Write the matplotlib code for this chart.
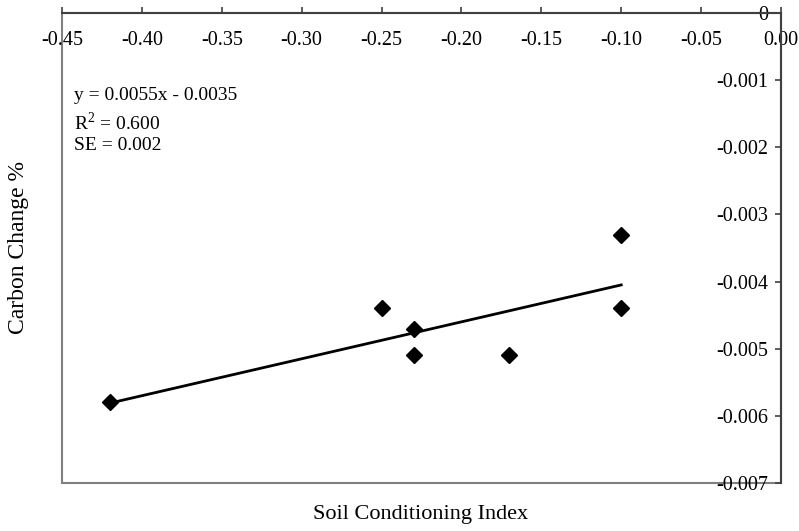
import matplotlib
matplotlib.use("Agg")
import matplotlib.pyplot as plt
from matplotlib.patches import Rectangle
import numpy as np

plt.rcParams['font.family'] = ['Liberation Serif', 'DejaVu Serif']
plt.rcParams['axes.unicode_minus'] = False
plt.rcParams['mathtext.fontset'] = 'custom'
plt.rcParams['mathtext.rm'] = 'Liberation Serif'

# Soil conditioning index vs. change in soil carbon
sci = [-0.42, -0.25, -0.23, -0.23, -0.17, -0.10, -0.10]
carbon_change = [-0.0058, -0.0044, -0.0047, -0.0051, -0.0051, -0.0033, -0.0044]

# Fitted trend line coefficients
slope = 0.0055
intercept = -0.0035
r_squared = 0.600
std_err = 0.002

x_ticks = [-0.45, -0.40, -0.35, -0.30, -0.25, -0.20, -0.15, -0.10, -0.05, 0.00]
y_ticks = [0, -0.001, -0.002, -0.003, -0.004, -0.005, -0.006, -0.007]

W, H = 799, 531
fig = plt.figure(figsize=(W / 100, H / 100), dpi=100)
ax = fig.add_axes([62 / W, 1 - 483 / H, (781 - 62) / W, (483 - 13) / H])

ax.set_xlim(-0.45, 0.0)
ax.set_ylim(-0.007, 0.0)

# Plot-area frame
ax.spines['top'].set_visible(False)
ax.spines['right'].set_visible(False)
ax.add_patch(Rectangle((0, 0), 1, 1, transform=ax.transAxes, fill=False,
                       edgecolor='#808080', linewidth=1.5, zorder=0, clip_on=False))

# Axes cross at the origin (top-right corner)
ax.spines['bottom'].set_position(('data', 0))
ax.spines['left'].set_position(('data', 0))
for s in ('bottom', 'left'):
    ax.spines[s].set_color('#404040')
    ax.spines[s].set_linewidth(1.5)
    ax.spines[s].set_zorder(3)

ax.set_xticks(x_ticks)
ax.set_xticklabels([f"{v:.2f}" for v in x_ticks])
ax.set_yticks(y_ticks)
ax.set_yticklabels(["0" if v == 0 else f"{v:.3f}" for v in y_ticks])
ax.tick_params(axis='x', direction='in', length=4.5, width=1.2, pad=13,
               labelsize=14.5, color='#404040')
ax.tick_params(axis='y', direction='out', length=4.5, width=1.2, pad=5,
               labelsize=14.5, color='#404040')

# Trend line across the observed range
xl = np.array([min(sci), max(sci)])
ax.plot(xl, slope * xl + intercept, color='black', linewidth=2.0, zorder=2)

ax.plot(sci, carbon_change, linestyle='none', marker='D', markersize=8.6,
        markerfacecolor='black', markeredgecolor='black', zorder=4)

sign = '-' if intercept < 0 else '+'
ann = [
    (95, f"y = {slope:.4f}x {sign} {abs(intercept):.4f}"),
    (123, f"R$^2$ = {r_squared:.3f}"),
    (145, f"SE = {std_err:.3f}"),
]
for ypix, s in ann:
    fig.text(74 / W, 1 - ypix / H, s, fontsize=14, va='center', ha='left')

fig.text(421 / W, 1 - 515 / H, "Soil Conditioning Index", fontsize=16,
         ha='center', va='center')
fig.text(19 / W, 1 - 248 / H, "Carbon Change %", fontsize=17,
         ha='center', va='center', rotation=90)

fig.savefig("out.png", dpi=100)
